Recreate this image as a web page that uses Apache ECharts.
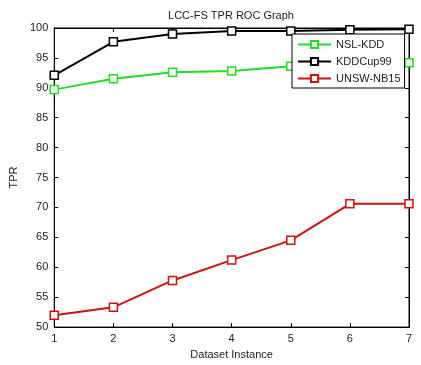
<!DOCTYPE html>
<html>
<head>
<meta charset="utf-8">
<script src="https://cdn.jsdelivr.net/npm/echarts@6/dist/echarts.min.js"></script>
<style>
  html, body { margin:0; padding:0; background:#fff; }
  #chart { width:421px; height:365px; }
</style>
</head>
<body>
<div id="chart"></div>
<script>
// data
const instances = [1, 2, 3, 4, 5, 6, 7];
const nslKdd   = [89.7, 91.5, 92.6, 92.8, 93.6, 93.9, 94.2];
const kddCup99 = [92.1, 97.7, 99.0, 99.5, 99.5, 99.7, 99.8];
const unswNb15 = [52.0, 53.3, 57.8, 61.2, 64.5, 70.6, 70.6];

const chart = echarts.init(document.getElementById('chart'));
const FONT = 'Liberation Sans';

function pairs(ys) { return ys.map((y, i) => [instances[i], y]); }

function line(name, color, ys) {
  return {
    name, type: 'line', data: pairs(ys),
    symbol: 'rect', symbolSize: 8, showSymbol: true,
    itemStyle: { color: '#fff', borderColor: color, borderWidth: 1.5 },
    lineStyle: { color, width: 2 },
    emphasis: { disabled: true },
    animation: false
  };
}

const tickIn = { inside: true, length: 4, lineStyle: { color: '#000' } };

chart.setOption({
  backgroundColor: '#fff',
  title: {
    text: 'LCC-FS TPR ROC Graph', left: 226, top: 5, textAlign: 'center',
    textStyle: { fontFamily: FONT, fontSize: 11, fontWeight: 'normal', color: '#222' }
  },
  grid: { left: 44, right: 12, top: 28, bottom: 35, show: true, borderColor: '#000', borderWidth: 1 },
  legend: {
    orient: 'vertical', left: 292, top: 34,
    padding: [5, 4, 4, 5],
    itemGap: 6, itemWidth: 33, itemHeight: 9,
    backgroundColor: '#fff', borderColor: '#000', borderWidth: 1,
    textStyle: { fontFamily: FONT, fontSize: 11, color: '#222' },
    data: ['NSL-KDD', 'KDDCup99', 'UNSW-NB15']
  },
  xAxis: [
    { type: 'value', min: 1, max: 7, interval: 1,
      name: 'Dataset Instance', nameLocation: 'middle', nameGap: 20,
      nameTextStyle: { fontFamily: FONT, fontSize: 11, color: '#222' },
      axisLine: { lineStyle: { color: '#000' } }, axisTick: tickIn,
      axisLabel: { fontFamily: FONT, fontSize: 11, color: '#222', margin: 6 },
      splitLine: { show: false } },
    { type: 'value', min: 1, max: 7, interval: 1, position: 'top',
      axisLine: { lineStyle: { color: '#000' } }, axisTick: tickIn,
      axisLabel: { show: false }, splitLine: { show: false } }
  ],
  yAxis: [
    { type: 'value', min: 50, max: 100, interval: 5,
      name: 'TPR', nameLocation: 'middle', nameGap: 28,
      nameTextStyle: { fontFamily: FONT, fontSize: 11, color: '#222' },
      axisLine: { show: true, lineStyle: { color: '#000' } }, axisTick: tickIn,
      axisLabel: { fontFamily: FONT, fontSize: 11, color: '#222', margin: 6 },
      splitLine: { show: false } },
    { type: 'value', min: 50, max: 100, interval: 5, position: 'right',
      axisLine: { show: true, lineStyle: { color: '#000' } }, axisTick: tickIn,
      axisLabel: { show: false }, splitLine: { show: false } }
  ],
  series: [
    line('NSL-KDD', '#22dd22', nslKdd),
    line('KDDCup99', '#000000', kddCup99),
    line('UNSW-NB15', '#cc1111', unswNb15)
  ]
});
</script>
</body>
</html>
